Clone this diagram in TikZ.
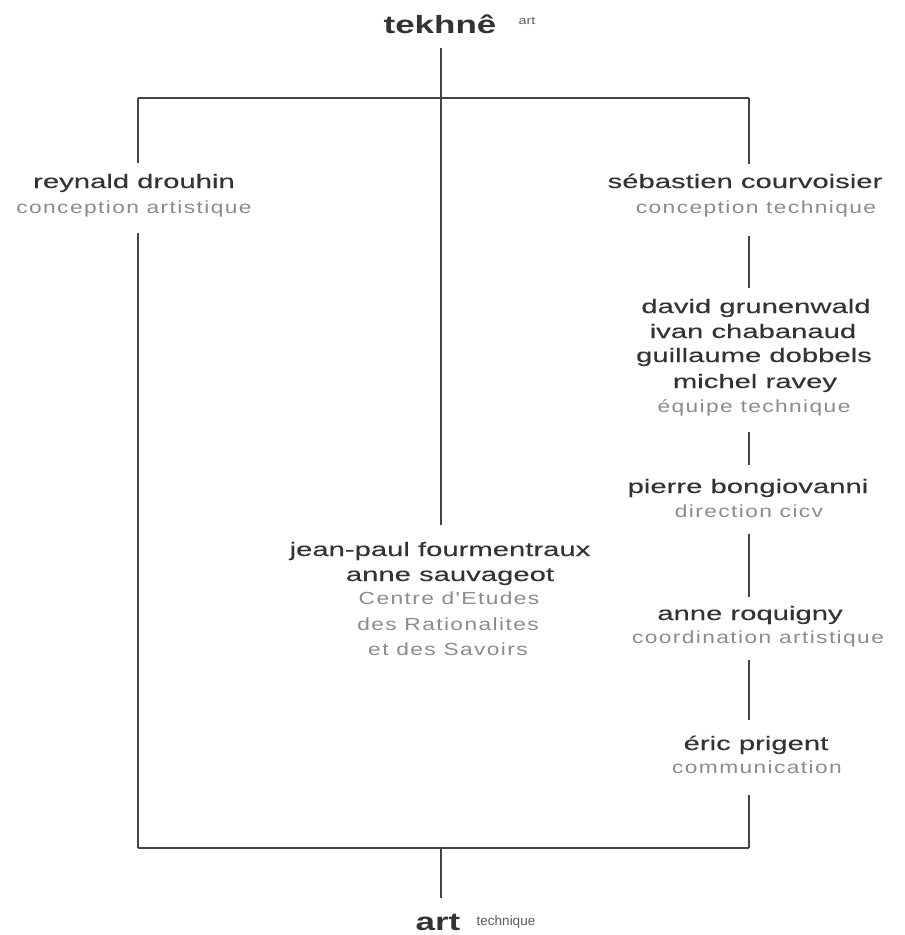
\documentclass[tikz,border=0pt]{standalone}
\usepackage{fontspec}
\newfontfamily\nameff[FakeStretch=1.5,FakeBold=0.15]{Liberation Sans}
\newfontfamily\roleff[FakeStretch=1.3,LetterSpace=8]{Liberation Sans}
\newfontfamily\headff[FakeStretch=1.4]{Liberation Sans}
\newfontfamily\tinyff[FakeStretch=1.3]{Liberation Sans}
\newfontfamily\techff{Liberation Sans}
\definecolor{ink}{HTML}{333333}
\definecolor{soft}{HTML}{8C8C8C}
\definecolor{rulec}{HTML}{444444}
\begin{document}
\begin{tikzpicture}[x=1pt,y=-1pt,
  person/.style={anchor=base,inner sep=0pt,text=ink,font=\nameff\fontsize{19.5}{22}\selectfont},
  rolelabel/.style={anchor=base,inner sep=0pt,text=soft,font=\roleff\fontsize{17.5}{20}\selectfont},
  headword/.style={anchor=base,inner sep=0pt,text=ink,font=\headff\bfseries\fontsize{25}{29}\selectfont},
  tinyword/.style={anchor=base,inner sep=0pt,text=ink!80,font=\tinyff\fontsize{11}{13}\selectfont},
  techword/.style={anchor=base,inner sep=0pt,text=ink!80,font=\techff\fontsize{13.5}{15}\selectfont},
  link/.style={draw=rulec,line width=1.8pt}]
\useasboundingbox[fill=white] (0,0) rectangle (905,935);

% headings
\node[headword] (tek) at (440,33) {tekhnê};
\node[tinyword] (tekart) at (527,24) {art};
\node[headword] (art) at (438,930) {art};
\node[techword] (tech) at (506,925) {technique};

% frame corners
\coordinate (tl) at (138,98);
\coordinate (tr) at (749,98);
\coordinate (bl) at (138,848);
\coordinate (br) at (749,848);
\coordinate (bm) at (441,848);

% left
\node[person] (rd) at (134,188) {reynald drouhin};
\node[rolelabel] (rdr) at (134,213) {conception artistique};

% right column
\node[person] (sc) at (745,188) {sébastien courvoisier};
\node[rolelabel] (scr) at (756,213) {conception technique};
\node[person] (dg) at (756,313) {david grunenwald};
\node[person] (ic) at (753,338) {ivan chabanaud};
\node[person] (gd) at (754,362) {guillaume dobbels};
\node[person] (mr) at (755,388) {michel ravey};
\node[rolelabel] (eq) at (754,412) {équipe technique};
\node[person] (pb) at (748,493) {pierre bongiovanni};
\node[rolelabel] (pbr) at (749,517) {direction cicv};
\node[person] (ar) at (750,620) {anne roquigny};
\node[rolelabel] (arr) at (758,643) {coordination artistique};
\node[person] (ep) at (756,750) {éric prigent};
\node[rolelabel] (epr) at (757,773) {communication};

% centre
\node[person] (jp) at (440,556) {jean-paul fourmentraux};
\node[person] (as) at (450,581) {anne sauvageot};
\node[rolelabel] (ce1) at (449,604) {Centre d'Etudes};
\node[rolelabel] (ce2) at (448,630) {des Rationalites};
\node[rolelabel] (ce3) at (448,655) {et des Savoirs};

% frame
\draw[link] (tl) -- (tr);
\draw[link] (bl) -- (br);
\draw[link,shorten >=25pt] (tl) -- (rd.base -| tl);
\draw[link,shorten <=20pt] (rdr.base -| bl) -- (bl);
\draw[link,shorten >=24pt] (tr) -- (sc.base -| tr);
\draw[link,shorten <=23pt,shorten >=25pt] (scr.base -| tr) -- (dg.base -| tr);
\draw[link,shorten <=20pt,shorten >=28pt] (eq.base -| tr) -- (pb.base -| tr);
\draw[link,shorten <=17pt,shorten >=23pt] (pbr.base -| tr) -- (ar.base -| tr);
\draw[link,shorten <=17pt,shorten >=30pt] (arr.base -| tr) -- (ep.base -| tr);
\draw[link,shorten <=22pt] (epr.base -| br) -- (br);
\draw[link,shorten <=15pt,shorten >=31pt] (tek.base -| bm) -- (jp.base -| bm);
\draw[link,shorten >=32pt] (bm) -- (art.base -| bm);
\end{tikzpicture}
\end{document}
